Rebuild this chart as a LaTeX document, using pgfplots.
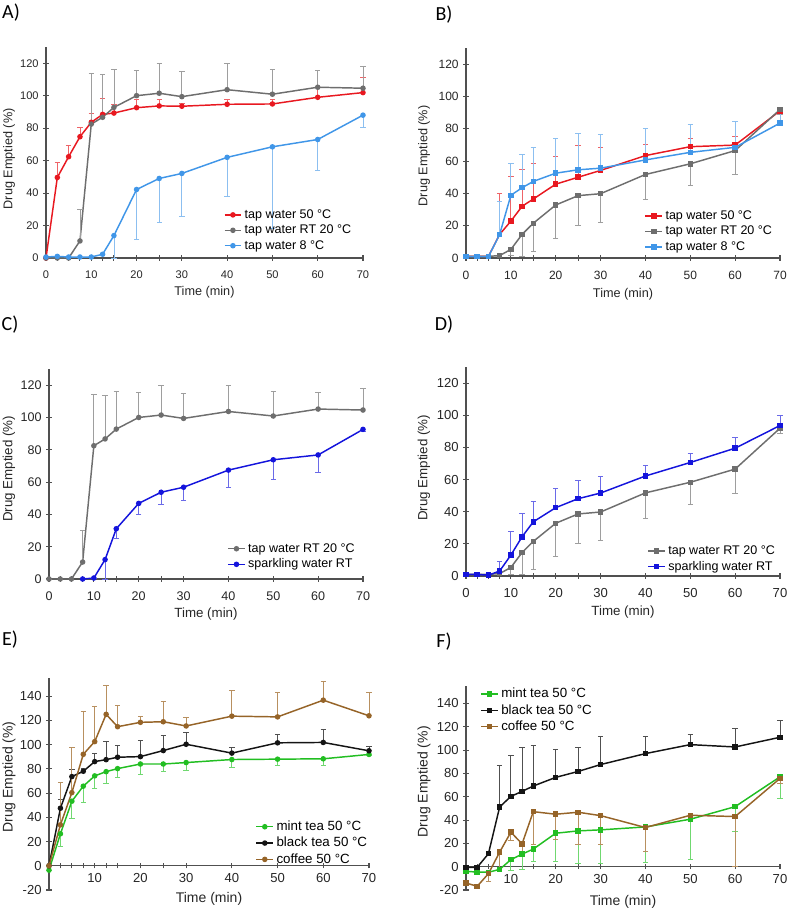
\documentclass[border=0pt]{standalone}
\usepackage{fontspec}
\setmainfont{Liberation Sans}
\newfontfamily\titlefont{Carlito}
\usepackage{pgfplots}
\usepackage{pgfplotstable}
\pgfplotsset{compat=1.18}
\definecolor{axgray}{HTML}{505050}
\definecolor{cRed}{HTML}{E81820}
\definecolor{cRedE}{HTML}{EE6468}
\definecolor{cGray}{HTML}{6E6E6E}
\definecolor{cGrayE}{HTML}{9E9E9E}
\definecolor{cLBlue}{HTML}{4096E8}
\definecolor{cLBlueE}{HTML}{8CBFF0}
\definecolor{cDBlue}{HTML}{1414DC}
\definecolor{cDBlueE}{HTML}{6A6AE8}
\definecolor{cGreen}{HTML}{22BE22}
\definecolor{cGreenE}{HTML}{70D870}
\definecolor{cBlack}{HTML}{141414}
\definecolor{cBlackE}{HTML}{505050}
\definecolor{cBrown}{HTML}{966428}
\definecolor{cBrownE}{HTML}{B89060}

% ---------------- data ----------------
\pgfplotstableread{
x y e
0 0 0
2.5 49.6 9.4
5 62.4 7
7.5 74.7 6
10 83.6 5.4
12.5 88.5 9.9
15 89.3 5.4
20 92.6 5.2
25 93.7 4.1
30 93.5 1.5
40 94.7 3.1
50 94.9 2.9
60 99 6
70 101.9 9.5
}\Ared
\pgfplotstableread{
x y e
0 0 0
2.5 0 0
5 0 0
7.5 10.5 19.5
10 82.5 31.5
12.5 86.7 26.7
15 92.8 23.5
20 100 15.5
25 101.5 18.1
30 99.4 15.5
40 103.7 15.9
50 100.9 15
60 105.2 10.5
70 104.6 13.4
}\Agray
\pgfplotstableread{
x y e
0 0.6 0
2.5 1 0
5 0.6 0
7.5 0.6 0
10 0.6 0
12.5 2.3 0
15 13.8 13.8
20 42.2 30.9
25 49 26.8
30 52.1 26.4
40 62 24
50 68.5 50.4
60 73 19
70 88 7.7
}\Ablue
\pgfplotstableread{
x y e
0 1 0
2.5 1 0
5 1 0
7.5 14.6 25.2
10 22.8 27.5
12.5 32 23
15 36.5 21.8
20 45.7 16.9
25 50 19.5
30 54.2 14.3
40 63.4 7.2
50 68.9 5.4
60 69.9 5.6
70 91.1 1
}\Bred
\pgfplotstableread{
x y e
0 1 0
2.5 1 0
5 1 0
7.5 1.5 0
10 5.3 4
12.5 14.6 13.8
15 21.5 17.4
20 32.8 20.5
25 38.6 18.5
30 39.8 17.9
40 51.7 15.6
50 58.3 13.6
60 66.5 15
70 91.9 3
}\Bgray
\pgfplotstableread{
x y e
0 0.8 0
2.5 0.8 0
5 0.8 0
7.5 14.6 20.4
10 38.8 19.9
12.5 43.5 20.7
15 47.4 21.1
20 52.5 21.8
25 54.6 22.5
30 55.6 21.1
40 60.7 19.7
50 65.4 17.5
60 68.5 15.8
70 83.5 7
}\Bblue
\pgfplotstableread{
x y e
7.5 0 0
10 0.6 0
12.5 12 12
15 31.1 6.1
20 46.8 6.8
25 53.7 7.3
30 56.8 7.9
40 67.4 10.4
50 73.8 12
60 76.8 10.8
70 92.6 1
}\Cblue
\pgfplotstableread{
x y e
0 1 0
2.5 1 0
5 0.5 0
7.5 3.1 5.8
10 13 14.5
12.5 24.4 14.4
15 33.7 13
20 42.5 11.8
25 48.1 11.4
30 51.6 10.4
40 62.2 6.6
50 70.6 5.4
60 79.5 6.4
70 93.6 6.2
}\Dblue
\pgfplotstableread{
x y e
0 -3.6 0
2.5 26.4 10.4
5 53.3 14
7.5 65.7 13.2
10 74.2 10.7
12.5 77.7 9.6
15 80.2 7.1
20 84 8.5
25 84 6.5
30 85.2 6.6
40 87.7 6.7
50 88 5
60 88.3 5.3
70 91.9 1
}\Egreen
\pgfplotstableread{
x y e
0 0 0
2.5 47.5 6.9
5 73.6 6.1
7.5 78 2
10 86 6.9
12.5 87.6 15.4
15 89.6 10.1
20 90.1 13.2
25 95.1 12.6
30 100.3 9.9
40 93 4.4
50 101.5 6.9
60 101.8 11
70 94.9 3.3
}\Eblack
\pgfplotstableread{
x y e
0 0 0
2.5 33.8 35.4
5 60.4 37.1
7.5 92 35.2
10 102.5 28.8
12.5 125 23.6
15 114.8 17.6
20 118.4 4.6
25 118.9 16.8
30 115.4 6.8
40 123.5 21.2
50 122.9 20.4
60 136.7 15.3
70 123.8 19.2
}\Ebrown
\pgfplotstableread{
x y e
0 -4 0
2.5 -4.6 0
5 -4.8 0
7.5 -2.3 0
10 6 9
12.5 10.8 13.4
15 15.1 10.5
20 28.7 24.1
25 30.7 27.6
30 31.6 28.5
40 34.1 30.6
50 40.7 34.7
60 51.5 21.3
70 77.1 18.5
}\Fgreen
\pgfplotstableread{
x y e
0 -0.5 0
2.5 -0.5 0
5 11.1 0
7.5 51.2 35.9
10 60.3 35.3
12.5 64.6 38.1
15 69.2 35
20 76.6 24.1
25 81.7 20.2
30 87.6 24.5
40 97 15.1
50 104.7 9.1
60 102.7 15.7
70 111 14.5
}\Fblack
\pgfplotstableread{
x y e
0 -14 0
2.5 -16.8 0
5 -6 6.5
7.5 12.5 13.5
10 29.6 7.4
12.5 19.6 7
15 47.2 27.8
20 45 22
25 46.7 27.3
30 43.8 24.4
40 33.6 20.8
50 44.1 0
60 43 43
70 75.7 4.3
}\Fbrown

\newcommand{\fsz}[1]{\fontsize{#1}{#1}\selectfont}
\pgfplotsset{
  panel/.style={
    scale only axis, anchor=south west,
    xmin=0, xmax=70, enlargelimits=false, clip=false,
    tick style={draw=axgray, line width=0.8pt},
    tick align=outside, major tick length=4pt,
    xtick={0,2.5,5,7.5,10,12.5,15,20,25,30,40,50,60,70},
    xticklabels={0,{},{},{},10,{},{},20,{},30,40,50,60,70},
    tick label style={text=black!85},
    label style={text=black!85},
    xlabel={Time (min)}, ylabel={Drug Emptied (\%)},
    /pgf/number format/assume math mode=true,
    legend cell align=left,
    legend style={draw=none, fill=none, anchor=north west, row sep=-0.5pt, inner sep=1pt},
    legend image code/.code={\draw[mark repeat=2,mark phase=2] plot coordinates {(0cm,0cm) (0.22cm,0cm) (0.44cm,0cm)};},
  },
  lines/.style={axis x line=bottom, axis y line=left,
    axis line style={-, draw=axgray, line width=0.8pt},
    every outer x axis line/.append style={-},
    every outer y axis line/.append style={-},
    x axis line style={-}, y axis line style={-}},
  topp/.style={ymin=0, ymax=130, ytick={0,20,...,120}, lines,
     xticklabel style={yshift=-4pt}},
  botp/.style={ymin=-20, ymax=155, ytick={-20,0,...,140}, lines,
     xticklabels={{},{},{},{},10,{},{},20,{},30,40,50,60,70}},
  fonts/.style n args={3}{tick label style={font=\fsz{#1}}, label style={font=\fsz{#2}}, legend style={font=\fsz{#3}}},
  ylab/.style n args={2}{ylabel style={at={([xshift=-#2]axis description cs:0,#1)}, anchor=center}},
  xlab/.style={xlabel style={at={(axis description cs:0.5,0)}, anchor=center, yshift=-#1}},
  ser/.style n args={4}{color=#1, line width=1.1pt, mark=#2, mark size=1.5pt, mark options={solid, fill=#1},
     error bars/y dir=#3, error bars/y explicit,
     error bars/error bar style={color=#4, line width=0.6pt},
     error bars/error mark options={rotate=90, mark size=2pt, line width=0.6pt, color=#4}},
}

\begin{document}
\begin{tikzpicture}
\useasboundingbox (0,0) rectangle (591.75pt,682.5pt);

% ---- A ----
\begin{axis}[panel, topp, fonts={8.3}{9.5}{9.4}, at={(34.5pt,489pt)}, width=237.75pt, height=158.25pt,
  ylab={0.47}{27.75pt}, xlab={25.5pt},
  legend style={at={(axis description cs:0.556,0.25)}}]
\addplot[ser={cRed}{*}{plus}{cRedE}] table[x=x,y=y,y error=e]{\Ared};
\addlegendentry{tap water 50 °C}
\addplot[ser={cGray}{*}{plus}{cGrayE}] table[x=x,y=y,y error=e]{\Agray};
\addlegendentry{tap water RT 20 °C}
\addplot[ser={cLBlue}{*}{minus}{cLBlueE}] table[x=x,y=y,y error=e]{\Ablue};
\addlegendentry{tap water 8 °C}
\end{axis}

% ---- B ----
\begin{axis}[panel, topp, fonts={9}{9.5}{9.4}, at={(349.5pt,489pt)}, width=235.5pt, height=157.5pt,
  ylab={0.486}{31.5pt}, xlab={27pt},
  legend style={at={(axis description cs:0.564,0.245)}}]
\addplot[ser={cRed}{square*}{plus}{cRedE}] table[x=x,y=y,y error=e]{\Bred};
\addlegendentry{tap water 50 °C}
\addplot[ser={cGray}{square*}{minus}{cGrayE}] table[x=x,y=y,y error=e]{\Bgray};
\addlegendentry{tap water RT 20 °C}
\addplot[ser={cLBlue}{square*}{plus}{cLBlueE}] table[x=x,y=y,y error=e]{\Bblue};
\addlegendentry{tap water 8 °C}
\end{axis}

% ---- C ----
\begin{axis}[panel, topp, fonts={9.4}{10}{9.4}, at={(36.75pt,248.25pt)}, width=235.5pt, height=157.5pt,
  ylab={0.524}{30pt}, xlab={26pt},
  legend style={at={(axis description cs:0.563,0.19)}}]
\addplot[ser={cGray}{*}{plus}{cGrayE}] table[x=x,y=y,y error=e]{\Agray};
\addlegendentry{tap water RT 20 °C}
\addplot[ser={cDBlue}{*}{minus}{cDBlueE}] table[x=x,y=y,y error=e]{\Cblue};
\addlegendentry{sparkling water RT}
\end{axis}

% ---- D ----
\begin{axis}[panel, topp, fonts={9.8}{10}{9.4}, at={(349.5pt,250.5pt)}, width=235.5pt, height=156.75pt,
  ylab={0.517}{31.5pt}, xlab={27pt},
  legend style={at={(axis description cs:0.573,0.165)}}]
\addplot[ser={cGray}{square*}{minus}{cGrayE}] table[x=x,y=y,y error=e]{\Bgray};
\addlegendentry{tap water RT 20 °C}
\addplot[ser={cDBlue}{square*}{plus}{cDBlueE}] table[x=x,y=y,y error=e]{\Dblue};
\addlegendentry{sparkling water RT}
\end{axis}

% ---- E ----
\begin{axis}[panel, botp, fonts={9.8}{10.5}{10}, at={(36.75pt,15pt)}, width=240pt, height=159pt,
  axis x line shift=-18.2pt,
  ylab={0.533}{30pt}, xlab={6.75pt},
  legend style={at={(axis description cs:0.641,0.346)}}]
\addplot[ser={cGreen}{*}{minus}{cGreenE}] table[x=x,y=y,y error=e]{\Egreen};
\addlegendentry{mint tea 50 °C}
\addplot[ser={cBlack}{*}{plus}{cBlackE}] table[x=x,y=y,y error=e]{\Eblack};
\addlegendentry{black tea 50 °C}
\addplot[ser={cBrown}{*}{plus}{cBrownE}] table[x=x,y=y,y error=e]{\Ebrown};
\addlegendentry{coffee 50 °C}
\end{axis}

% ---- F ----
\begin{axis}[panel, botp, fonts={9.8}{10.5}{10}, at={(349.5pt,15pt)}, width=235.5pt, height=153pt,
  axis x line shift=-17.6pt,
  ylab={0.53}{31.5pt}, xlab={9pt},
  legend style={at={(axis description cs:0.041,1.01)}}]
\addplot[ser={cGreen}{square*}{minus}{cGreenE}] table[x=x,y=y,y error=e]{\Fgreen};
\addlegendentry{mint tea 50 °C}
\addplot[ser={cBlack}{square*}{plus}{cBlackE}] table[x=x,y=y,y error=e]{\Fblack};
\addlegendentry{black tea 50 °C}
\addplot[ser={cBrown}{square*}{minus}{cBrownE}] table[x=x,y=y,y error=e]{\Fbrown};
\addlegendentry{coffee 50 °C}
\end{axis}

% panel titles
\node[font=\titlefont\fontsize{15}{17}\selectfont] at (8.25pt,672.75pt) {A)};
\node[font=\titlefont\fontsize{15}{17}\selectfont] at (333pt,671.25pt) {B)};
\node[font=\titlefont\fontsize{15}{17}\selectfont] at (7.5pt,438.75pt) {C)};
\node[font=\titlefont\fontsize{15}{17}\selectfont] at (333pt,438.75pt) {D)};
\node[font=\titlefont\fontsize{15}{17}\selectfont] at (7.5pt,202.5pt) {E)};
\node[font=\titlefont\fontsize{15}{17}\selectfont] at (333pt,201pt) {F)};
\end{tikzpicture}
\end{document}
